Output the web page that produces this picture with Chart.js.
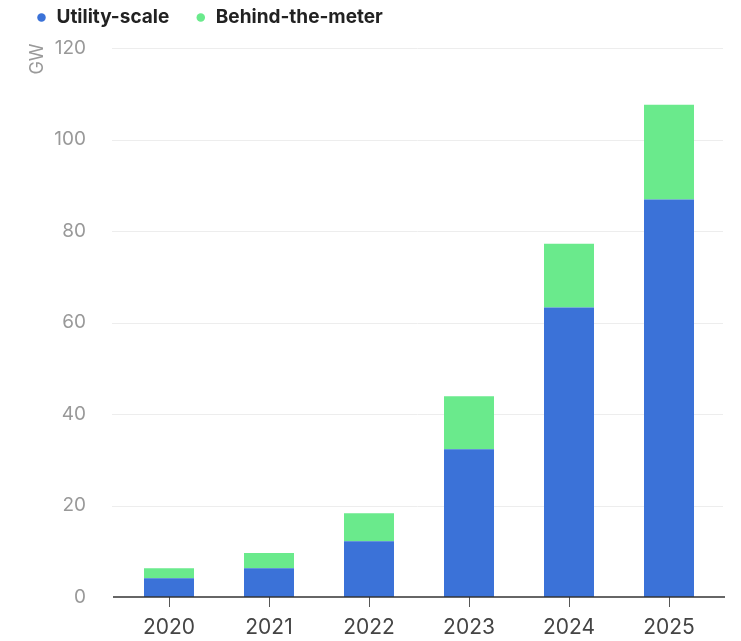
<!DOCTYPE html>
<html lang="en">
<head>
  <meta charset="utf-8" />
  <title>Battery storage additions</title>
  <script src="https://cdn.jsdelivr.net/npm/chart.js"></script>
  <style>
    html, body { margin: 0; padding: 0; background: #fff; }
    #wrap { width: 741px; height: 641px; position: relative; }
  </style>
</head>
<body>
  <div id="wrap"><canvas id="chart"></canvas></div>

  <script>
    // values (GW)
    const years = ["2020", "2021", "2022", "2023", "2024", "2025"];
    const utilityScale = [4.1, 6.3, 12.2, 32.3, 63.3, 86.9];
    const behindTheMeter = [2.2, 3.3, 6.1, 11.6, 13.9, 20.7];
    const yTicks = [0, 20, 40, 60, 80, 100, 120];

    const blue = "#3b72d8";
    const green = "#6aea8c";

    // a bit more room under the legend
    const legendGap = {
      id: "legendGap",
      beforeInit(chart) {
        const fit = chart.legend.fit;
        chart.legend.fit = function () {
          fit.bind(chart.legend)();
          this.height += 11;
        };
      }
    };

    // grid lines + baseline run a little past the bars on both sides
    const axisLines = {
      id: "axisLines",
      beforeDatasetsDraw(chart) {
        const { ctx, chartArea, scales: { y } } = chart;
        ctx.save();
        ctx.strokeStyle = "#ededed";
        ctx.lineWidth = 1;
        y.ticks.forEach(t => {
          if (t.value === 0) return;
          const py = Math.round(y.getPixelForValue(t.value)) + 0.5;
          ctx.beginPath();
          ctx.moveTo(chartArea.left - 7, py);
          ctx.lineTo(chartArea.right + 4, py);
          ctx.stroke();
        });
        // GW unit label
        ctx.fillStyle = "#9a9a9a";
        ctx.font = "18px Inter";
        ctx.translate(38, y.getPixelForValue(120) + 11);
        ctx.rotate(-Math.PI / 2);
        ctx.textAlign = "center";
        ctx.textBaseline = "middle";
        ctx.fillText("GW", 0, 0);
        ctx.restore();
      },
      afterDatasetsDraw(chart) {
        const { ctx, chartArea, scales: { y } } = chart;
        const py = y.getPixelForValue(0);
        ctx.save();
        ctx.strokeStyle = "#333";
        ctx.lineWidth = 1.5;
        ctx.beginPath();
        ctx.moveTo(chartArea.left - 6, py);
        ctx.lineTo(chartArea.right + 6, py);
        ctx.stroke();
        ctx.restore();
      }
    };

    new Chart(document.getElementById("chart"), {
      type: "bar",
      data: {
        labels: years,
        datasets: [
          { label: "Utility-scale", data: utilityScale, backgroundColor: blue },
          { label: "Behind-the-meter", data: behindTheMeter, backgroundColor: green }
        ]
      },
      options: {
        responsive: true,
        maintainAspectRatio: false,
        animation: false,
        layout: { padding: { left: 10, right: 22, top: -18, bottom: 0 } },
        datasets: { bar: { barPercentage: 0.5, categoryPercentage: 1.0 } },
        plugins: {
          legend: {
            position: "top",
            align: "start",
            labels: {
              usePointStyle: true,
              pointStyle: "circle",
              boxWidth: 11,
              boxHeight: 6,
              padding: 26,
              color: "#222",
              font: { family: "Inter", size: 19, weight: "bold" }
            }
          },
          tooltip: { enabled: false }
        },
        scales: {
          x: {
            stacked: true,
            border: { display: false },
            grid: {
              offset: false,
              drawOnChartArea: false,
              drawTicks: true,
              tickLength: 10,
              color: "#555"
            },
            ticks: {
              color: "#444",
              padding: 8,
              font: { family: "Inter", size: 21 }
            },
            afterFit(scale) { scale.height = 44; }
          },
          y: {
            stacked: true,
            min: 0,
            max: 120,
            border: { display: false },
            grid: { display: false },
            afterBuildTicks(scale) { scale.ticks = yTicks.map(v => ({ value: v })); },
            ticks: {
              color: "#999",
              padding: 25,
              font: { family: "Inter", size: 19 }
            },
            afterFit(scale) { scale.width = 109; }
          }
        }
      },
      plugins: [legendGap, axisLines]
    });
  </script>
</body>
</html>
